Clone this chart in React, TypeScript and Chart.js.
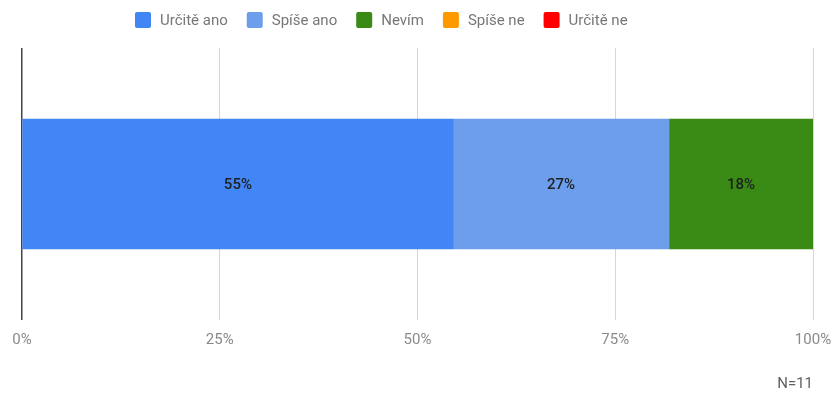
import React, { useEffect, useRef } from "react";
import { Chart, registerables } from "chart.js";

Chart.register(...registerables);

const categories = ["Odpověď"];
const seriesNames = ["Určitě ano", "Spíše ano", "Nevím", "Spíše ne", "Určitě ne"];
const seriesColors = ["#4285F4", "#6D9EEB", "#3A8B15", "#FF9900", "#FF0000"];
const valuesUrciteAno = [54.5];
const valuesSpiseAno = [27.3];
const valuesNevim = [18.2];
const valuesSpiseNe = [0];
const valuesUrciteNe = [0];
const xTicks = [0, 25, 50, 75, 100];
const noteText = "N=11";

const FONT = "Roboto, 'Noto Sans', sans-serif";

const legendPlugin = {
  id: "customLegend",
  afterDraw(chart: any) {
    const ctx = chart.ctx;
    ctx.save();
    ctx.font = `15px ${FONT}`;
    ctx.textBaseline = "middle";
    ctx.textAlign = "left";
    let x = 135;
    const cy = 20;
    const box = 16;
    chart.data.datasets.forEach((ds: any) => {
      ctx.fillStyle = ds.backgroundColor;
      ctx.beginPath();
      (ctx as any).roundRect(x, cy - box / 2, box, box, 2);
      ctx.fill();
      ctx.fillStyle = "#777777";
      const tx = x + 25;
      ctx.fillText(ds.label, tx, cy + 1);
      x = tx + ctx.measureText(ds.label).width + 19;
    });
    ctx.restore();
  },
};

const valueLabelPlugin = {
  id: "valueLabels",
  afterDatasetsDraw(chart: any) {
    const ctx = chart.ctx;
    ctx.save();
    ctx.font = `500 15px ${FONT}`;
    ctx.fillStyle = "#1f1f1f";
    ctx.textAlign = "center";
    ctx.textBaseline = "middle";
    chart.data.datasets.forEach((ds: any, i: number) => {
      const meta = chart.getDatasetMeta(i);
      meta.data.forEach((el: any, j: number) => {
        const v = ds.data[j];
        if (!v) return;
        const cx = (el.x + el.base) / 2;
        ctx.fillText(`${Math.round(v)}%`, cx, el.y + 1);
      });
    });
    ctx.restore();
  },
};

export default function App() {
  const ref = useRef<HTMLCanvasElement | null>(null);
  useEffect(() => {
    if (!ref.current) return;
    const series = [valuesUrciteAno, valuesSpiseAno, valuesNevim, valuesSpiseNe, valuesUrciteNe];
    const chart = new Chart(ref.current, {
      type: "bar",
      data: {
        labels: categories,
        datasets: series.map((d, i) => ({
          label: seriesNames[i],
          data: d,
          backgroundColor: seriesColors[i],
          borderWidth: 0,
          barThickness: 130,
        })),
      },
      options: {
        indexAxis: "y",
        animation: false,
        responsive: false,
        maintainAspectRatio: false,
        layout: { padding: { top: 48, left: 22, right: 21, bottom: 0 } },
        plugins: {
          legend: { display: false },
          tooltip: { enabled: false },
          subtitle: {
            display: true,
            text: noteText,
            position: "bottom",
            align: "end",
            color: "#616161",
            font: { family: FONT, size: 15 },
            padding: { top: 15, bottom: 0 },
          },
        },
        scales: {
          x: {
            stacked: true,
            min: 0,
            max: 100,
            afterBuildTicks: (axis: any) => {
              axis.ticks = xTicks.map((v) => ({ value: v }));
            },
            afterFit: (axis: any) => {
              axis.paddingLeft = 0;
              axis.paddingRight = 0;
            },
            ticks: {
              callback: (v: any) => `${v}%`,
              color: "#8a8a8a",
              font: { family: FONT, size: 15 },
              padding: 11,
              maxRotation: 0,
              autoSkip: false,
            },
            grid: {
              drawTicks: false,
              color: (c: any) => (c.tick && c.tick.value === 0 ? "#444444" : "#d6d6d6"),
              lineWidth: (c: any) => (c.tick && c.tick.value === 0 ? 1.5 : 1),
            },
            border: { display: false },
          },
          y: {
            stacked: true,
            display: false,
          },
        },
      },
      plugins: [legendPlugin, valueLabelPlugin],
    });
    return () => chart.destroy();
  }, []);
  return (
    <div style={{ position: "absolute", left: 0, top: 0, width: 834, height: 393, background: "#fff" }}>
      <canvas ref={ref} width={834} height={393} style={{ width: 834, height: 393, display: "block" }} />
    </div>
  );
}
